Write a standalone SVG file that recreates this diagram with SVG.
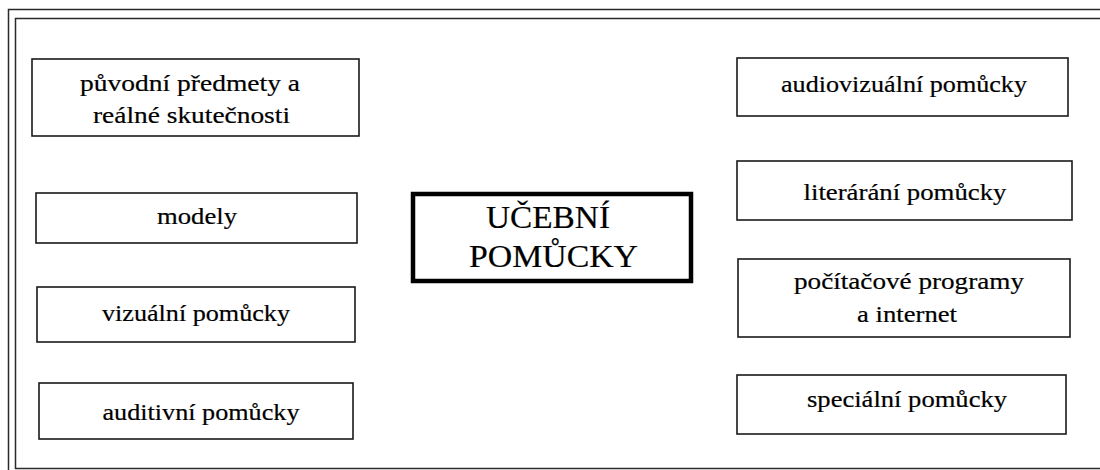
<svg xmlns="http://www.w3.org/2000/svg" width="1100" height="470" viewBox="0 0 1100 470">
<style>
.frame{fill:none;stroke:#2a2a2a;stroke-width:1.5}
.box{fill:#fff;stroke:#1a1a1a;stroke-width:1.6}
.main{fill:#fff;stroke:#000;stroke-width:4.5}
.t{font-family:'Liberation Serif',serif;font-size:23.5px;fill:#000;stroke:#000;stroke-width:0.2;text-anchor:middle}
.tm{font-family:'Liberation Serif',serif;font-size:30.5px;fill:#000;stroke:#000;stroke-width:0.2;text-anchor:middle}
</style>
<rect width="1100" height="470" fill="#fff"/>
<g id="frame">
<path class="frame" d="M1102,9.5 H8.5 V472"/>
<path class="frame" d="M1102,18.5 H15.5 V468.5 H1102"/>
</g>
<g id="connectors"></g>
<g id="n-puvodni">
<rect class="box" x="32" y="59" width="327" height="77"/>
<text class="t" x="190" y="91" textLength="220" lengthAdjust="spacingAndGlyphs">původní předmety a</text>
<text class="t" x="191.5" y="123" textLength="197" lengthAdjust="spacingAndGlyphs">reálné skutečnosti</text>
</g>
<g id="n-modely">
<rect class="box" x="36" y="193" width="321" height="50"/>
<text class="t" x="197" y="224" textLength="80" lengthAdjust="spacingAndGlyphs">modely</text>
</g>
<g id="n-vizualni">
<rect class="box" x="37" y="287" width="318" height="55"/>
<text class="t" x="196" y="321" textLength="188" lengthAdjust="spacingAndGlyphs">vizuální pomůcky</text>
</g>
<g id="n-auditivni">
<rect class="box" x="39" y="383" width="314" height="56"/>
<text class="t" x="201" y="420" textLength="197" lengthAdjust="spacingAndGlyphs">auditivní pomůcky</text>
</g>
<g id="n-ucebni">
<rect class="main" x="413" y="194" width="278" height="87"/>
<text class="tm" x="548" y="228" textLength="124" lengthAdjust="spacingAndGlyphs">UČEBNÍ</text>
<text class="tm" x="553.5" y="267" textLength="169" lengthAdjust="spacingAndGlyphs">POMŮCKY</text>
</g>
<g id="n-audiovizualni">
<rect class="box" x="737" y="58" width="331" height="58"/>
<text class="t" x="904" y="92" textLength="246" lengthAdjust="spacingAndGlyphs">audiovizuální pomůcky</text>
</g>
<g id="n-literarani">
<rect class="box" x="737" y="161" width="335" height="59"/>
<text class="t" x="905" y="200" textLength="203" lengthAdjust="spacingAndGlyphs">literárání pomůcky</text>
</g>
<g id="n-pocitacove">
<rect class="box" x="738" y="259" width="332" height="78"/>
<text class="t" x="909" y="289" textLength="230" lengthAdjust="spacingAndGlyphs">počítačové programy</text>
<text class="t" x="907" y="322" textLength="100" lengthAdjust="spacingAndGlyphs">a internet</text>
</g>
<g id="n-specialni">
<rect class="box" x="737" y="375" width="329" height="59"/>
<text class="t" x="907" y="407" textLength="200" lengthAdjust="spacingAndGlyphs">speciální pomůcky</text>
</g>
</svg>
